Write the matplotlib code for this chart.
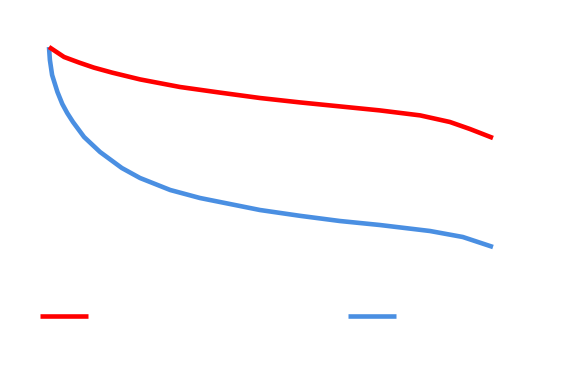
import matplotlib
matplotlib.use("Agg")
import matplotlib.pyplot as plt

# Values (x 0..100, y 0..100)
red_x = [0, 3.4, 6.8, 10.1, 14.2, 20.5, 29.5, 38.5, 47.5, 56.5, 65.5, 74.5, 83.6, 90.3, 94.8, 100]
red_y = [100, 95, 92.2, 89.7, 87.2, 83.8, 80, 77.2, 74.5, 72.3, 70.3, 68.3, 65.8, 62.5, 59, 54.5]

blue_x = [0, 0.2, 0.7, 1.9, 3.0, 4.1, 5.4, 7.9, 11.5, 16.4, 20.5, 27.3, 34, 47.5, 56.5,
          65.5, 74.5, 85.8, 93.2, 100]
blue_y = [100, 93.5, 86, 77.5, 71.5, 67, 62.5, 55, 47.5, 39.5, 34.5, 28.5, 24.5, 18.5, 15.6,
          13, 11, 8, 5, 0]

RED = "#ff0000"
BLUE = "#4a8fe2"

fig = plt.figure(figsize=(5.81, 3.70), dpi=100)
ax = fig.add_axes([49 / 581, 1 - 247 / 370, (493 - 49) / 581, 200 / 370])

blue_line, = ax.plot(blue_x, blue_y, color=BLUE, linewidth=3.3, solid_capstyle="butt",
                     solid_joinstyle="round", clip_on=False)
red_line, = ax.plot(red_x, red_y, color=RED, linewidth=3.3, solid_capstyle="butt",
                    solid_joinstyle="round", clip_on=False)

ax.set_xlim(0, 100)
ax.set_ylim(0, 100)
ax.axis("off")

fig.legend([red_line, blue_line], ["", ""], ncol=2, frameon=False,
           loc="center left", bbox_to_anchor=(40 / 581, 1 - 317 / 370),
           borderaxespad=0, borderpad=0, handlelength=3.46,
           handletextpad=0.8, columnspacing=17.9, fontsize=10)

fig.savefig("out.png", dpi=100)
